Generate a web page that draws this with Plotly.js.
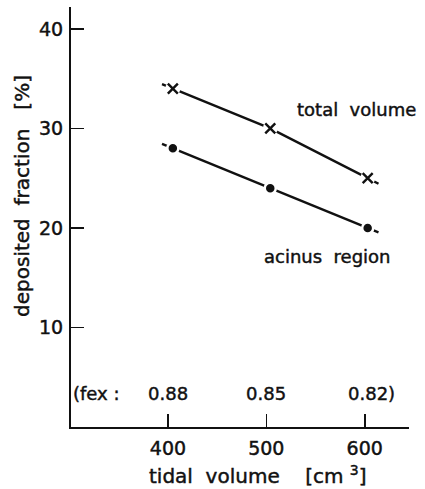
<!DOCTYPE html>
<html>
<head>
<meta charset="utf-8">
<script src="https://cdn.plot.ly/plotly-3.0.1.min.js"></script>
<style>
html,body{margin:0;padding:0;background:#fff;}
#chart{width:425px;height:489px;}
#chart text{stroke:#111;stroke-width:0.45px;}
</style>
</head>
<body>
<div id="chart"></div>
<script>
// Data
const tidalVolume = [405, 504, 603];          // cm^3 (plotted positions)
const totalVolume = [34.0, 30.0, 25.0];       // deposited fraction %, total volume
const acinusRegion = [28.0, 24.0, 20.0];      // deposited fraction %, acinus region
const fexValues = ['0.88', '0.85', '0.82'];   // expiratory fraction row
const fexPositions = [400, 500, 600];
const xTickVals = [400, 500, 600];
const yTickVals = [10, 20, 30, 40];

const FONT = 'DejaVu Sans, sans-serif';
const INK = '#111';

// short stubs extending the fitted lines a little beyond the end points
function extend(xs, ys, dx) {
  const n = xs.length;
  const s0 = (ys[1] - ys[0]) / (xs[1] - xs[0]);
  const s1 = (ys[n-1] - ys[n-2]) / (xs[n-1] - xs[n-2]);
  return {
    x: [xs[0] - dx].concat(xs, [xs[n-1] + dx]),
    y: [ys[0] - s0 * dx].concat(ys, [ys[n-1] + s1 * dx])
  };
}
const totLine = extend(tidalVolume, totalVolume, 11);
const acLine = extend(tidalVolume, acinusRegion, 11);

const traces = [
  {x: totLine.x, y: totLine.y, mode: 'lines', line: {color: INK, width: 2.4}, hoverinfo: 'skip', showlegend: false},
  {x: acLine.x, y: acLine.y, mode: 'lines', line: {color: INK, width: 2.4}, hoverinfo: 'skip', showlegend: false},
  // white halos for gaps around markers
  {x: tidalVolume, y: totalVolume, mode: 'markers', marker: {symbol: 'circle', size: 15, color: '#fff'}, hoverinfo: 'skip', showlegend: false},
  {x: tidalVolume, y: totalVolume, mode: 'markers', name: 'total volume',
   marker: {symbol: 'x-thin-open', size: 10, color: INK, line: {color: INK, width: 2.4}}, showlegend: false},
  {x: tidalVolume, y: acinusRegion, mode: 'markers', name: 'acinus region',
   marker: {symbol: 'circle', size: 11, color: INK, line: {color: '#fff', width: 2.5}}, showlegend: false}
];

const f = (s) => ({family: FONT, size: s, color: INK});
const annotations = [
  {x: 592, y: 31.9, xref: 'x', yref: 'y', text: 'total\u00a0 volume', showarrow: false, font: f(18)},
  {x: 562, y: 17.1, xref: 'x', yref: 'y', text: 'acinus\u00a0 region', showarrow: false, font: f(18)},
  {x: 302, y: 3.4, xref: 'x', yref: 'y', xanchor: 'left', text: '(fex\u00a0:', showarrow: false, font: f(18)},
  // axis titles
  {x: 0.553, y: -0.115, xref: 'paper', yref: 'paper', xanchor: 'center', yanchor: 'middle', text: 'tidal\u00a0 volume\u00a0\u00a0\u00a0 [cm\u00a0<sup>3</sup>]', showarrow: false, font: f(20)},
  {x: -0.145, y: 0.55, xref: 'paper', yref: 'paper', xanchor: 'center', yanchor: 'middle', textangle: -90, text: 'deposited\u00a0 fraction\u00a0\u00a0 [%]', showarrow: false, font: f(20)}
];
fexValues.forEach((v, i) => {
  const last = i === fexValues.length - 1;
  annotations.push({x: fexPositions[i], y: 3.4, xref: 'x', yref: 'y', text: v + (last ? ')' : ''),
    xanchor: last ? 'left' : 'center', xshift: last ? -19 : 0,
    showarrow: false, font: f(18)});
});

const layout = {
  width: 425, height: 489,
  margin: {l: 71, r: 16, t: 7, b: 62},
  paper_bgcolor: '#fff', plot_bgcolor: '#fff',
  showlegend: false,
  font: f(18),
  xaxis: {
    range: [301.5, 645], tickvals: xTickVals, ticktext: xTickVals.map(String),
    ticks: 'inside', ticklen: 13, tickwidth: 1.6, tickcolor: INK,
    showline: true, linecolor: INK, linewidth: 2, showgrid: false, zeroline: false,
    tickfont: f(19), ticklabelstandoff: 3
  },
  yaxis: {
    range: [0, 42.2], tickvals: yTickVals, ticktext: yTickVals.map(String),
    ticks: 'inside', ticklen: 13, tickwidth: 1.6, tickcolor: INK,
    showline: true, linecolor: INK, linewidth: 2, showgrid: false, zeroline: false,
    tickfont: f(19), ticklabelstandoff: 2
  },
  annotations: annotations
};

Plotly.newPlot('chart', traces, layout, {staticPlot: true, displayModeBar: false});
</script>
</body>
</html>
